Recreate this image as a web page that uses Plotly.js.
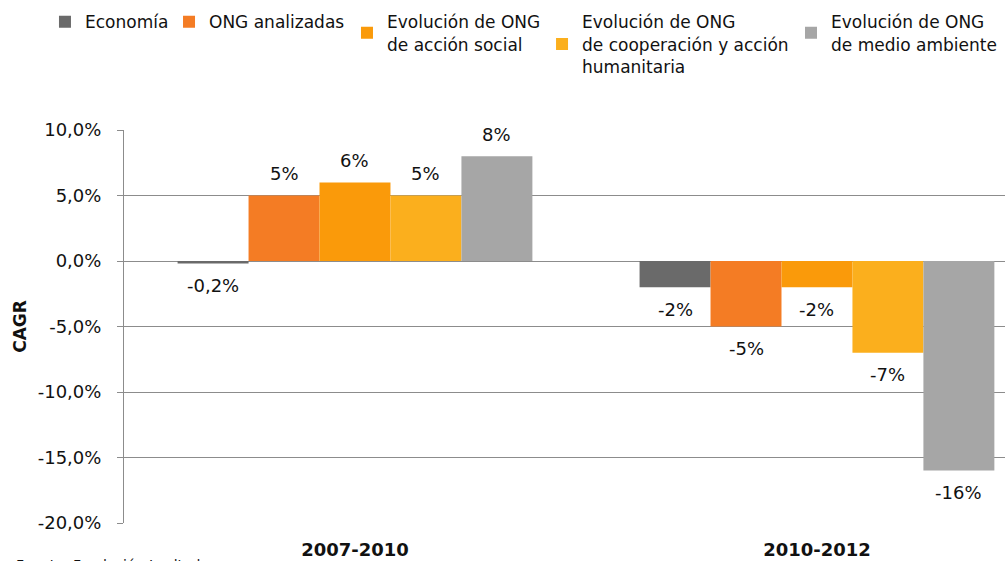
<!DOCTYPE html>
<html>
<head>
<meta charset="utf-8">
<script src="https://cdn.plot.ly/plotly-3.0.1.min.js"></script>
<style>html,body{margin:0;padding:0;background:#fff;}#chart{width:1005px;height:561px;}</style>
</head>
<body>
<div id="chart"></div>
<script>
// ---- data ----
const periods = ['2007-2010', '2010-2012'];
const seriesNames = [
  'Economía',
  'ONG analizadas',
  'Evolución de ONG<br>de acción social',
  'Evolución de ONG<br>de cooperación y acción<br>humanitaria',
  'Evolución de ONG<br>de medio ambiente'
];
const economia = [-0.2, -2];
const ongAnalizadas = [5, -5];
const accionSocial = [6, -2];
const cooperacion = [5, -7];
const medioAmbiente = [8, -16];
const seriesColors = ['#6a6a6a', '#f47c24', '#fa9a0a', '#fbaf1d', '#a6a6a6'];
const yTicks = [10, 5, 0, -5, -10, -15, -20];
const yTickText = ['10,0%', '5,0%', '0,0%', '-5,0%', '-10,0%', '-15,0%', '-20,0%'];
const sourceText = 'Fuente: Fundación Lealtad';

const allValues = [economia, ongAnalizadas, accionSocial, cooperacion, medioAmbiente];
const fmt = v => (Number.isInteger(v) ? String(v) : v.toFixed(1).replace('.', ',')) + '%';

const BARGAP = 0.232;
const nSeries = allValues.length;
const barW = (1 - BARGAP) / nSeries;

const legendNames = ['legend', 'legend2', 'legend3', 'legend4', 'legend5'];
const traces = allValues.map((vals, i) => ({
  type: 'bar',
  x: periods,
  y: vals,
  name: seriesNames[i],
  legend: legendNames[i],
  marker: {color: seriesColors[i], line: {width: 0}},
  hoverinfo: 'skip'
}));

// data labels placed with the axis scales (category index + group offset)
const labelAnns = [];
allValues.forEach((vals, i) => {
  vals.forEach((v, j) => {
    labelAnns.push({
      xref: 'x', yref: 'y',
      x: j + (i - (nSeries - 1) / 2) * barW,
      y: v,
      text: fmt(v),
      showarrow: false,
      xanchor: 'center', yanchor: 'middle',
      yshift: v >= 0 ? 22 : -22,
      font: {family: 'DejaVu Sans', size: 18, color: '#111'}
    });
  });
});

const legendX = [-0.0897, 0.0511, 0.2531, 0.4745, 0.7571];
const baseLegend = x => ({
  x: x, y: 1.32, xanchor: 'left', yanchor: 'top',
  orientation: 'v', bgcolor: 'rgba(0,0,0,0)',
  font: {family: 'DejaVu Sans', size: 17, color: '#111'},
  tracegroupgap: 0, itemclick: false, itemdoubleclick: false
});

const layout = {
  width: 1005, height: 561,
  margin: {l: 124, r: 0, t: 130, b: 38, pad: 0},
  paper_bgcolor: '#fff', plot_bgcolor: '#fff',
  barmode: 'group',
  bargap: BARGAP,
  bargroupgap: 0,
  showlegend: true,
  xaxis: {
    type: 'category',
    range: [-0.5, 1.407],
    showgrid: false, zeroline: false, showline: false,
    ticks: '', ticklabelstandoff: 14,
    tickfont: {family: 'DejaVu Sans', size: 18, color: '#111', weight: 'bold'}
  },
  yaxis: {
    range: [-20, 10],
    tickvals: yTicks,
    ticktext: yTickText,
    showgrid: true, gridcolor: '#8c8c8c', gridwidth: 1,
    zeroline: true, zerolinecolor: '#8c8c8c', zerolinewidth: 1,
    showline: true, linecolor: '#8c8c8c', linewidth: 1,
    ticks: 'outside', ticklen: 6, tickcolor: '#8c8c8c',
    ticklabelstandoff: 12,
    tickfont: {family: 'DejaVu Sans', size: 18, color: '#111'},
    title: {text: 'CAGR', standoff: 6, font: {family: 'DejaVu Sans', size: 17, color: '#111', weight: 'bold'}},
    automargin: false
  },
  annotations: labelAnns.concat([{
    text: sourceText, xref: 'paper', yref: 'paper',
    x: -0.1249, y: -0.0814, xanchor: 'left', yanchor: 'top',
    showarrow: false,
    font: {family: 'DejaVu Sans', size: 14, color: '#111'}
  }])
};
legendNames.forEach((ln, i) => { layout[ln] = baseLegend(legendX[i]); });

Plotly.newPlot('chart', traces, layout, {staticPlot: true, displayModeBar: false});
</script>
</body>
</html>
